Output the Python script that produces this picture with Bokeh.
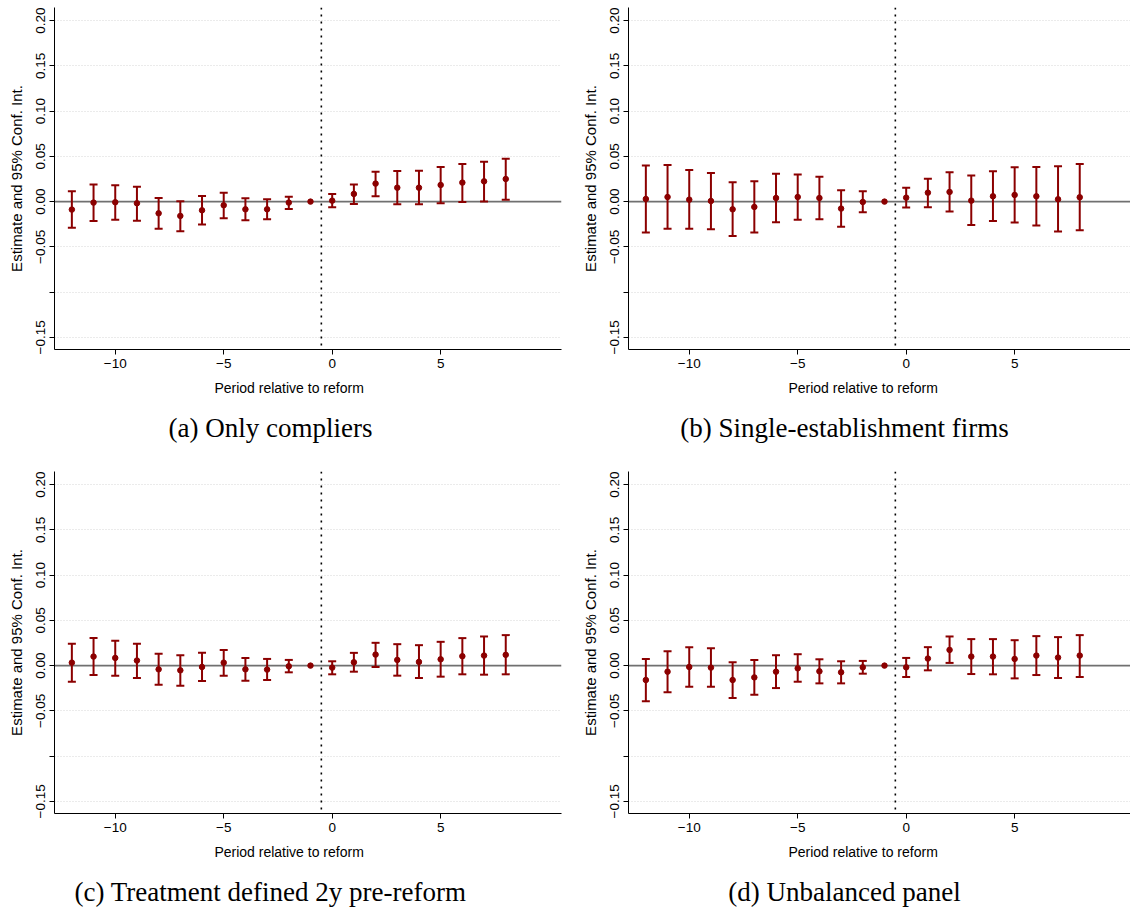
from bokeh.plotting import figure
from bokeh.layouts import gridplot
from bokeh.models import ColumnDataSource, Whisker, TeeHead, Span, Label, Range1d, FixedTicker
from bokeh.embed import file_html
from bokeh.resources import INLINE

# ---------------- data ----------------
periods = list(range(-12, 9))
ref_period = -1          # omitted reference period (no interval)
reform_line = -0.5       # dotted vertical line

est_a = [-0.0088, -0.0011, -0.0007, -0.0018, -0.0129, -0.0158, -0.0096, -0.0040, -0.0085, -0.0085, -0.0011,
         0.0, 0.0011, 0.0085, 0.0199, 0.0154, 0.0154, 0.0184, 0.0210, 0.0224, 0.0250]
hi_a = [0.0114, 0.0188, 0.0180, 0.0165, 0.0040, 0.0004, 0.0063, 0.0099, 0.0037, 0.0026, 0.0055,
        0.0, 0.0085, 0.0188, 0.0331, 0.0338, 0.0342, 0.0382, 0.0415, 0.0441, 0.0474]
lo_a = [-0.0290, -0.0213, -0.0200, -0.0210, -0.0300, -0.0327, -0.0254, -0.0184, -0.0206, -0.0195, -0.0081,
        0.0, -0.0063, -0.0026, 0.0059, -0.0029, -0.0029, -0.0018, -0.0004, 0.0000, 0.0022]

est_b = [0.0029, 0.0051, 0.0022, 0.0007, -0.0085, -0.0059, 0.0040, 0.0051, 0.0040, -0.0077, -0.0004,
         0.0, 0.0044, 0.0099, 0.0107, 0.0011, 0.0059, 0.0074, 0.0059, 0.0026, 0.0048]
hi_b = [0.0400, 0.0404, 0.0349, 0.0316, 0.0213, 0.0224, 0.0309, 0.0301, 0.0276, 0.0125, 0.0114,
        0.0, 0.0154, 0.0254, 0.0324, 0.0290, 0.0335, 0.0379, 0.0382, 0.0390, 0.0415]
lo_b = [-0.0342, -0.0301, -0.0301, -0.0305, -0.0379, -0.0342, -0.0228, -0.0199, -0.0195, -0.0279, -0.0118,
        0.0, -0.0066, -0.0063, -0.0110, -0.0257, -0.0213, -0.0232, -0.0265, -0.0331, -0.0316]

est_c = [0.0033, 0.0100, 0.0085, 0.0056, -0.0041, -0.0052, -0.0015, 0.0033, -0.0041, -0.0044, -0.0007,
         0.0, -0.0022, 0.0037, 0.0122, 0.0063, 0.0041, 0.0070, 0.0104, 0.0111, 0.0119]
hi_c = [0.0241, 0.0304, 0.0274, 0.0241, 0.0130, 0.0115, 0.0141, 0.0174, 0.0085, 0.0074, 0.0063,
        0.0, 0.0048, 0.0141, 0.0252, 0.0237, 0.0226, 0.0263, 0.0304, 0.0322, 0.0337]
lo_c = [-0.0178, -0.0104, -0.0111, -0.0137, -0.0211, -0.0222, -0.0170, -0.0111, -0.0167, -0.0159, -0.0074,
        0.0, -0.0096, -0.0067, -0.0015, -0.0111, -0.0137, -0.0122, -0.0096, -0.0100, -0.0096]

est_d = [-0.0159, -0.0067, -0.0015, -0.0022, -0.0159, -0.0130, -0.0067, -0.0030, -0.0063, -0.0074, -0.0019,
         0.0, -0.0019, 0.0078, 0.0174, 0.0100, 0.0100, 0.0074, 0.0111, 0.0089, 0.0111]
hi_d = [0.0074, 0.0159, 0.0204, 0.0193, 0.0037, 0.0063, 0.0115, 0.0126, 0.0070, 0.0048, 0.0052,
        0.0, 0.0085, 0.0204, 0.0322, 0.0293, 0.0293, 0.0281, 0.0326, 0.0315, 0.0337]
lo_d = [-0.0393, -0.0293, -0.0233, -0.0233, -0.0359, -0.0322, -0.0248, -0.0178, -0.0196, -0.0196, -0.0089,
        0.0, -0.0126, -0.0052, 0.0030, -0.0093, -0.0096, -0.0141, -0.0104, -0.0137, -0.0126]

y_ticks = [-0.15, -0.10, -0.05, 0.0, 0.05, 0.10, 0.15, 0.20]
y_tick_labels = ["\u22120.15", "", "\u22120.05", "0.00", "0.05", "0.10", "0.15", "0.20"]
x_ticks = [-10, -5, 0, 5]
x_tick_labels = ["\u221210", "\u22125", "0", "5"]

y_label = "Estimate and 95% Conf. Int."
x_label = "Period relative to reform"
captions = ["(a) Only compliers", "(b) Single-establishment firms",
            "(c) Treatment defined 2y pre-reform", "(d) Unbalanced panel"]

# ---------------- style ----------------
RED = "#8b0000"
SANS = "Liberation Sans"
SERIF = "Liberation Serif"
X_MIN = -12.8
Y_MIN, Y_MAX = -0.1634, 0.2145


def make_panel(est, lo, hi, width, height, b_left, b_right, b_top, b_bottom, x_max):
    p = figure(width=width, height=height, output_backend="svg", toolbar_location=None,
               x_range=Range1d(X_MIN, x_max), y_range=Range1d(Y_MIN, Y_MAX),
               min_border_left=b_left, min_border_right=b_right,
               min_border_top=b_top, min_border_bottom=b_bottom)
    p.outline_line_color = None
    p.background_fill_color = "white"
    p.border_fill_color = "white"

    # grid
    p.xgrid.visible = False
    p.ygrid.ticker = FixedTicker(ticks=y_ticks)
    p.ygrid.grid_line_color = "#d6d6d6"
    p.ygrid.grid_line_dash = "1 2"
    p.ygrid.grid_line_width = 1

    # y axis
    ya = p.yaxis[0]
    ya.ticker = FixedTicker(ticks=y_ticks)
    ya.major_label_overrides = {t: l for t, l in zip(y_ticks, y_tick_labels)}
    ya.major_label_orientation = "vertical"
    ya.axis_label = y_label
    ya.axis_label_text_font = SANS
    ya.axis_label_text_font_size = "15px"
    ya.axis_label_text_font_style = "normal"
    ya.axis_label_text_color = "black"
    ya.axis_label_standoff = 9
    ya.major_label_text_font = SANS
    ya.major_label_text_font_size = "13.5px"
    ya.major_label_text_color = "black"
    ya.major_label_standoff = 4
    ya.major_tick_out = 5
    ya.major_tick_in = 0
    ya.minor_tick_out = 0
    ya.minor_tick_in = 0
    ya.axis_line_color = "black"
    ya.major_tick_line_color = "black"

    # x axis
    xa = p.xaxis[0]
    xa.ticker = FixedTicker(ticks=x_ticks)
    xa.major_label_overrides = {t: l for t, l in zip(x_ticks, x_tick_labels)}
    xa.major_label_text_font = SANS
    xa.major_label_text_font_size = "13.5px"
    xa.major_label_text_color = "black"
    xa.major_label_standoff = 4
    xa.major_tick_out = 5
    xa.major_tick_in = 0
    xa.minor_tick_out = 0
    xa.minor_tick_in = 0
    xa.axis_line_color = "black"
    xa.major_tick_line_color = "black"

    # reference lines
    p.add_layout(Span(location=0, dimension="width", line_color="#707070", line_width=1.6, level="underlay"))
    p.add_layout(Span(location=reform_line, dimension="height", line_color="black",
                      line_width=1.6, line_dash="2 5", level="underlay"))

    # confidence intervals
    keep = [i for i, t in enumerate(periods) if t != ref_period]
    ci_src = ColumnDataSource(dict(x=[periods[i] for i in keep],
                                   lo=[lo[i] for i in keep],
                                   hi=[hi[i] for i in keep]))
    p.add_layout(Whisker(source=ci_src, base="x", lower="lo", upper="hi", dimension="height",
                         line_color=RED, line_width=2,
                         upper_head=TeeHead(size=8, line_color=RED, line_width=2),
                         lower_head=TeeHead(size=8, line_color=RED, line_width=2)))
    src = ColumnDataSource(dict(x=periods, y=est))
    p.scatter("x", "y", source=src, size=5.5, color=RED)
    return p


def make_caption(caption, width, height, b_left, b_right, xlab_y, cap_y):
    # strip holding the x-axis title and the sub-figure caption;
    # its frame lines up with the panel frame above, positions are in pixels from the frame's left edge
    fw = width - b_left - b_right
    t = figure(width=width, height=height, output_backend="svg", toolbar_location=None,
               x_range=Range1d(0, fw), y_range=Range1d(0, height),
               x_axis_type=None, y_axis_type=None,
               min_border_left=b_left, min_border_right=b_right, min_border_top=0, min_border_bottom=0)
    t.outline_line_color = None
    t.grid.visible = False
    t.add_layout(Label(x=234.6, y=xlab_y, text=x_label,
                       text_align="center", text_baseline="middle",
                       text_font=SANS, text_font_size="14px", text_color="black"))
    t.add_layout(Label(x=216, y=cap_y, text=caption,
                       text_align="center", text_baseline="middle",
                       text_font=SERIF, text_font_size="27px", text_color="black"))
    return t


pa = make_panel(est_a, lo_a, hi_a, 570, 380, 54, 9, 7, 31, 10.57)
pb = make_panel(est_b, lo_b, hi_b, 560, 380, 58, 0, 7, 31, 10.34)
ta = make_caption(captions[0], 570, 80, 54, 9, 72.4, 32.2)
tb = make_caption(captions[1], 560, 80, 58, 0, 72.4, 32.2)

pc = make_panel(est_c, lo_c, hi_c, 570, 384, 54, 9, 11, 31, 10.57)
pd = make_panel(est_d, lo_d, hi_d, 560, 384, 58, 0, 11, 31, 10.34)
tc = make_caption(captions[2], 570, 63, 54, 9, 55.9, 15.2)
td = make_caption(captions[3], 560, 63, 58, 0, 55.9, 15.2)

grid = gridplot([[pa, pb], [ta, tb], [pc, pd], [tc, td]], toolbar_location=None)

open("out.html", "w").write(file_html(grid, INLINE))
